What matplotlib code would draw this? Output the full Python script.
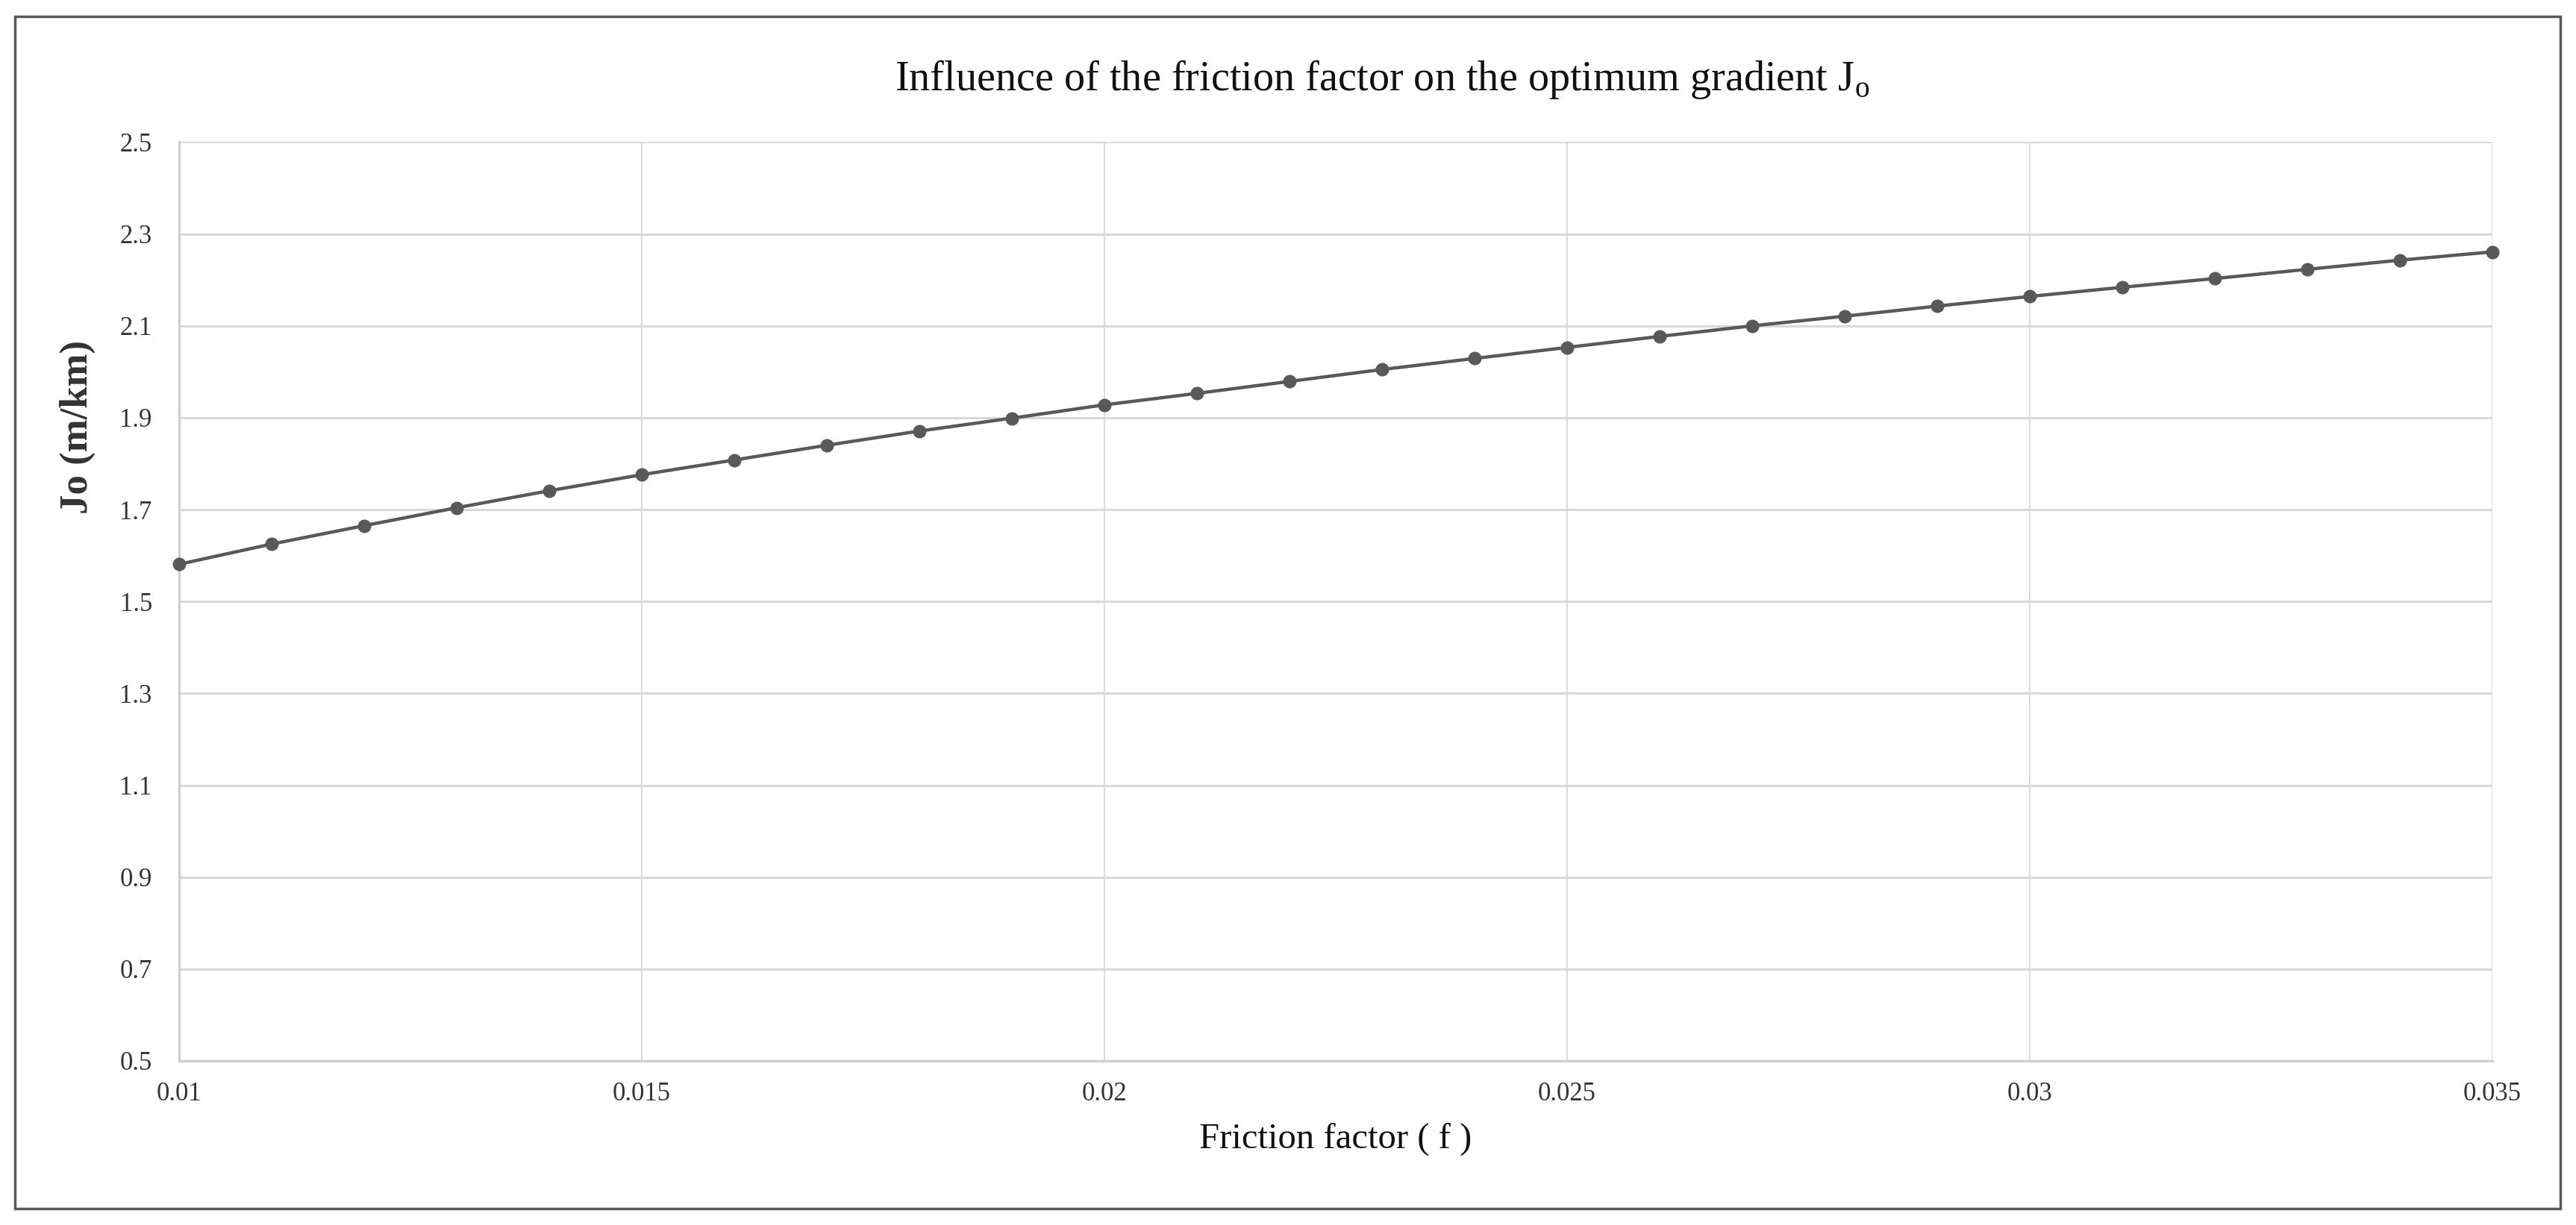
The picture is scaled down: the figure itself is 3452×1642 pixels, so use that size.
import matplotlib.pyplot as plt
from matplotlib.patches import Rectangle

# friction factor and optimum gradient
friction = [0.010, 0.011, 0.012, 0.013, 0.014, 0.015, 0.016, 0.017, 0.018,
            0.019, 0.020, 0.021, 0.022, 0.023, 0.024, 0.025, 0.026, 0.027,
            0.028, 0.029, 0.030, 0.031, 0.032, 0.033, 0.034, 0.035]
jo = [1.581, 1.625, 1.665, 1.704, 1.741, 1.776, 1.808, 1.840, 1.871,
      1.899, 1.928, 1.953, 1.979, 2.005, 2.029, 2.053, 2.077, 2.100,
      2.121, 2.143, 2.164, 2.184, 2.203, 2.223, 2.243, 2.261]

x_ticks = [0.01, 0.015, 0.02, 0.025, 0.03, 0.035]
x_labels = ["0.01", "0.015", "0.02", "0.025", "0.03", "0.035"]
y_ticks = [0.5, 0.7, 0.9, 1.1, 1.3, 1.5, 1.7, 1.9, 2.1, 2.3, 2.5]
y_labels = ["0.5", "0.7", "0.9", "1.1", "1.3", "1.5", "1.7", "1.9", "2.1", "2.3", "2.5"]

plt.rcParams['font.family'] = ['Liberation Serif', 'DejaVu Serif']
plt.rcParams['mathtext.fontset'] = 'custom'
plt.rcParams['mathtext.rm'] = 'Liberation Serif'

fig = plt.figure(figsize=(34.52, 16.42), dpi=100)
ax = fig.add_axes([0.0695, 0.134, 0.898, 0.750])

ax.plot(friction, jo, color="#595959", linewidth=3.2, marker="o",
        markersize=12, zorder=3, clip_on=False)

ax.set_xlim(0.01, 0.035)
ax.set_ylim(0.5, 2.5)
ax.set_xticks(x_ticks)
ax.set_xticklabels(x_labels)
ax.set_yticks(y_ticks)
ax.set_yticklabels(y_labels)
ax.tick_params(axis="both", length=0, labelsize=25, labelcolor="#333333")
ax.tick_params(axis="x", pad=20)
ax.tick_params(axis="y", pad=26)

ax.grid(True, axis="y", color="#d9d9d9", linewidth=2.2)
ax.grid(True, axis="x", color="#d9d9d9", linewidth=1.3)
for side in ["top", "right"]:
    ax.spines[side].set_visible(False)
for side in ["left", "bottom"]:
    ax.spines[side].set_color("#d0d0d0")
    ax.spines[side].set_linewidth(2.5)

ax.set_title(r"Influence of the friction factor on the optimum gradient J$_\mathrm{o}$",
             fontsize=40.5, x=0.52, pad=50, color="#111111")
ax.set_xlabel("Friction factor ( f )", fontsize=35, labelpad=16, color="#111111")
ax.set_ylabel("Jo (m/km)", fontsize=38, fontweight="bold", color="#333333")
# the label sits above the middle of the axis in the original
ax.yaxis.set_label_coords(-0.036, 0.69)

# outer frame round the chart
fig.patches.append(Rectangle((0.0058, 0.0135), 0.988, 0.973, transform=fig.transFigure,
                             fill=False, edgecolor="#595959", linewidth=2.5))

fig.savefig("out.png", dpi=100)
